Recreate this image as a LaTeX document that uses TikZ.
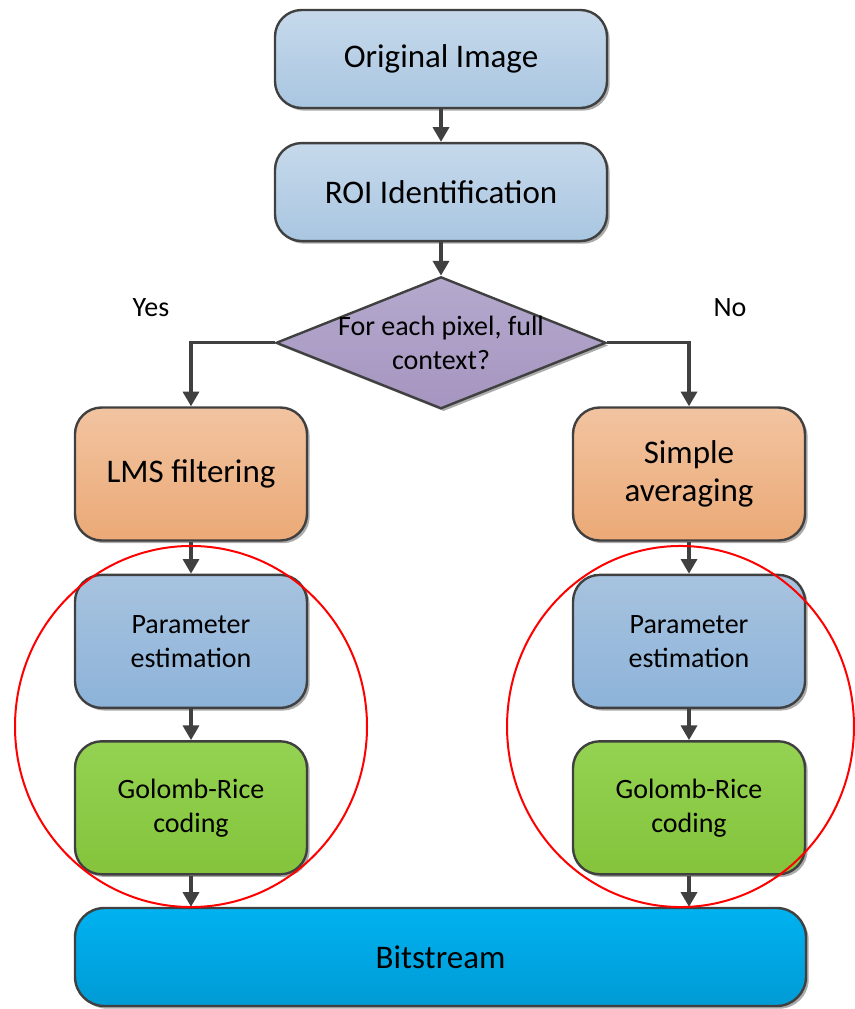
\documentclass[tikz,border=0pt]{standalone}
\usepackage{fontspec}
\setmainfont{Carlito}
\usetikzlibrary{positioning,shapes.geometric,shadows,arrows.meta}

\definecolor{edge}{HTML}{404040}
\definecolor{paleT}{HTML}{C6D9EB}
\definecolor{paleB}{HTML}{A9C6E1}
\definecolor{blueT}{HTML}{A7C3DF}
\definecolor{blueB}{HTML}{8DB3D9}
\definecolor{orgT}{HTML}{F2C4A1}
\definecolor{orgB}{HTML}{EBA976}
\definecolor{purT}{HTML}{B5A9CD}
\definecolor{purB}{HTML}{A595C0}
\definecolor{grnT}{HTML}{94D352}
\definecolor{grnB}{HTML}{84C33B}
\definecolor{cyanT}{HTML}{00B2F0}
\definecolor{cyanB}{HTML}{009BD5}

\begin{document}
\begin{tikzpicture}[%
  x=0.75pt,
  y=-0.75pt,
  >={Triangle[width=12pt,length=11pt]},
  arr/.style={
    ->,
    draw=edge,
    line width=2.5pt,},
  blk/.style={
    draw=edge,
    line width=1.8pt,
    align=center,
    drop shadow={shadow xshift=2pt,shadow yshift=-2pt,fill=black!55,opacity=0.6}},
  big/.style={blk, rounded corners=20pt, minimum width=249pt, minimum height=73.5pt,
    top color=paleT, bottom color=paleB, font=\fontsize{24.75}{28.5}\selectfont},
  mid/.style={blk, rounded corners=20pt, minimum width=174pt, minimum height=99.75pt,
    top color=orgT, bottom color=orgB, font=\fontsize{24.75}{28.5}\selectfont},
  small/.style={blk, rounded corners=20pt, minimum width=174pt, minimum height=99.75pt,
    font=\fontsize{21}{25.5}\selectfont},
  decide/.style={blk, diamond, aspect=2.5, inner sep=0pt, minimum width=247.5pt,
    minimum height=99pt, top color=purT, bottom color=purB,
    font=\fontsize{21}{25.5}\selectfont},
  lbl/.style={font=\fontsize{21}{25.5}\selectfont}
  ]
  \useasboundingbox (0,0) rectangle (855,1009);
  %% Nodes
  \node[big] (orig) at (441,59) {Original Image};
  \node[big, below = 24.5pt of orig] (roi) {ROI Identification};
  \node[decide, below = 25pt of roi] (ctx)
    {\makebox[0pt]{For each pixel, full}\\\makebox[0pt]{context?}};
  \node[lbl] (yes) at (151,308) {Yes};
  \node[lbl] (no) at (730,308) {No};
  \node[mid] (lms) at (191,474) {LMS filtering};
  \node[mid] (avg) at (689,474) {Simple\\averaging};
  \node[small, top color=blueT, bottom color=blueB, below = 24pt of lms] (parL) {Parameter\\estimation};
  \node[small, top color=grnT, bottom color=grnB, below = 23.25pt of parL] (grL) {Golomb-Rice\\coding};
  \node[small, top color=blueT, bottom color=blueB, below = 24pt of avg] (parR) {Parameter\\estimation};
  \node[small, top color=grnT, bottom color=grnB, below = 23.25pt of parR] (grR) {Golomb-Rice\\coding};
  \node[blk, rounded corners=22pt, minimum width=548.25pt, minimum height=73.5pt,
    top color=cyanT, bottom color=cyanB, font=\fontsize{24.75}{28.5}\selectfont]
    (bits) at (440.5,957) {Bitstream};
  %% Edges
  \draw[arr] (orig) -- (roi);
  \draw[arr] (roi) -- (ctx);
  \draw[arr] (ctx.west) -| (lms.north);
  \draw[arr] (ctx.east) -| (avg.north);
  \draw[arr] (lms) -- (parL);
  \draw[arr] (parL) -- (grL);
  \draw[arr] (grL.south) -- (grL.south |- bits.north);
  \draw[arr] (avg) -- (parR);
  \draw[arr] (parR) -- (grR);
  \draw[arr] (grR.south) -- (grR.south |- bits.north);
  %% Marks
  \draw[red, line width=1.5pt] (191,726.5) ellipse [x radius=132pt, y radius=135.4pt];
  \draw[red, line width=1.5pt] (680.5,726.5) ellipse [x radius=130.1pt, y radius=135.4pt];
\end{tikzpicture}
\end{document}
